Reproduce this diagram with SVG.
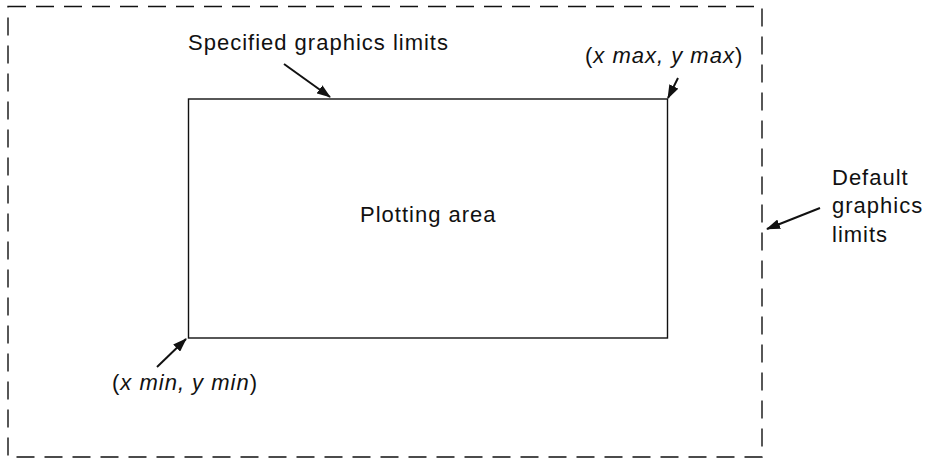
<svg xmlns="http://www.w3.org/2000/svg" width="928" height="460" viewBox="0 0 928 460">
<style>
.t{font-family:"Liberation Sans",Arial,sans-serif;font-size:22px;letter-spacing:1px;fill:#111}
.i{font-style:italic}
.ln{stroke:#111;fill:none}
</style>
<defs>
<marker id="ah" markerWidth="14" markerHeight="10" refX="13" refY="5" orient="auto" markerUnits="userSpaceOnUse"><path d="M0,0 L14,5 L0,10 z" fill="#111"/></marker>
</defs>
<rect width="928" height="460" fill="#fff"/>
<g id="default-limits">
<rect x="8" y="6.5" width="754" height="450.5" class="ln" stroke-width="1.4" stroke-dasharray="18,10"/>
</g>
<g id="plotting-area">
<rect x="188.5" y="99" width="479" height="239" class="ln" stroke-width="1.4"/>
<text x="360" y="222" class="t">Plotting area</text>
</g>
<g id="label-specified"><text x="188" y="50" class="t">Specified graphics limits</text></g>
<g id="label-max"><text x="585" y="63" class="t"><tspan>(</tspan><tspan class="i">x max, y max</tspan><tspan>)</tspan></text></g>
<g id="label-default">
<text x="832" y="185" class="t">Default</text>
<text x="832" y="213" class="t">graphics</text>
<text x="832" y="242" class="t">limits</text>
</g>
<g id="label-min"><text x="112" y="390" class="t"><tspan>(</tspan><tspan class="i">x min, y min</tspan><tspan>)</tspan></text></g>
<g id="connectors">
<line x1="284" y1="64" x2="330" y2="97" class="ln" stroke-width="2" marker-end="url(#ah)"/>
<line x1="678" y1="78" x2="668" y2="98" class="ln" stroke-width="2" marker-end="url(#ah)"/>
<line x1="820" y1="208" x2="767" y2="229" class="ln" stroke-width="2" marker-end="url(#ah)"/>
<line x1="157" y1="367" x2="186" y2="339" class="ln" stroke-width="2" marker-end="url(#ah)"/>
</g>
</svg>
